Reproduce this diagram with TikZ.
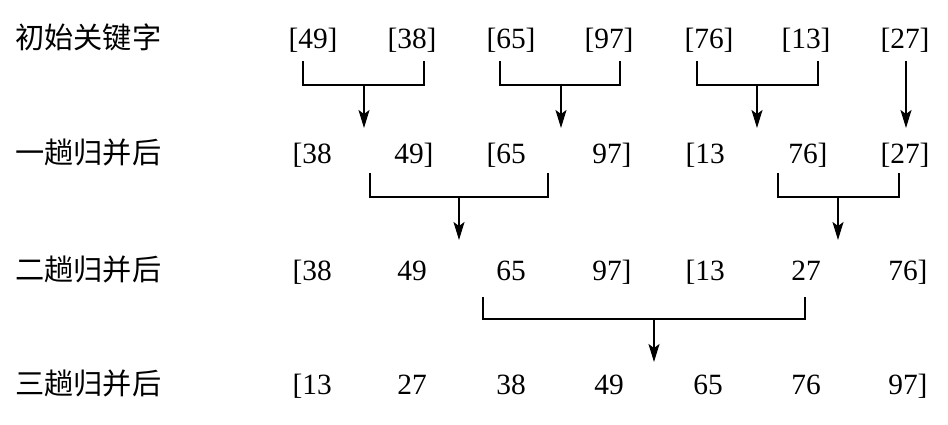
\documentclass[tikz,border=0pt]{standalone}
\usepackage{fontspec}
\setmainfont{Liberation Serif}
\newfontfamily\cjk{Noto Sans CJK SC}
\usetikzlibrary{arrows.meta}
\newcommand\mybr[7]{%
  \coordinate (#1tl) at (#2,#5); \coordinate (#1bl) at (#2,#6);
  \coordinate (#1br) at (#3,#6); \coordinate (#1tr) at (#3,#5);
  \coordinate (#1m) at (#4,#6);  \coordinate (#1t) at (#4,#7);
  \draw[brk] (#1tl) -- (#1bl) -- (#1br) -- (#1tr);
  \draw[arr] (#1m) -- (#1t);}
\begin{document}
\begin{tikzpicture}[x=0.5pt,y=-0.5pt,
  num/.style={anchor=base,inner sep=0pt,font=\fontsize{14.7}{17}\selectfont},
  lab/.style={anchor=base west,inner sep=0pt,font=\cjk\fontsize{14.6}{17}\selectfont},
  brk/.style={line width=0.8pt},
  arr/.style={line width=0.8pt,-{Stealth[length=9pt,width=5.5pt,inset=2pt]}}]
\useasboundingbox[fill=white] (0,0) rectangle (948,424);
% labels
\node[lab] (l1) at (15,48) {初始关键字};
\node[lab] (l2) at (15,163) {一趟归并后};
\node[lab] (l3) at (15,280) {二趟归并后};
\node[lab] (l4) at (15,394) {三趟归并后};
% row 1
\node[num] (r1c0) at (313,48) {\llap{[}49\rlap{]}};
\node[num] (r1c1) at (412,48) {\llap{[}38\rlap{]}};
\node[num] (r1c2) at (511,48) {\llap{[}65\rlap{]}};
\node[num] (r1c3) at (609,48) {\llap{[}97\rlap{]}};
\node[num] (r1c4) at (709,48) {\llap{[}76\rlap{]}};
\node[num] (r1c5) at (806,48) {\llap{[}13\rlap{]}};
\node[num] (r1c6) at (905,48) {\llap{[}27\rlap{]}};
% row 2
\node[num] (r2c0) at (317,163) {\llap{[}38};
\node[num] (r2c1) at (409,163) {49\rlap{]}};
\node[num] (r2c2) at (511,163) {\llap{[}65};
\node[num] (r2c3) at (607,163) {97\rlap{]}};
\node[num] (r2c4) at (710,163) {\llap{[}13};
\node[num] (r2c5) at (803,163) {76\rlap{]}};
\node[num] (r2c6) at (905,163) {\llap{[}27\rlap{]}};
% row 3
\node[num] (r3c0) at (317,280) {\llap{[}38};
\node[num] (r3c1) at (412,280) {49};
\node[num] (r3c2) at (511,280) {65};
\node[num] (r3c3) at (607,280) {97\rlap{]}};
\node[num] (r3c4) at (710,280) {\llap{[}13};
\node[num] (r3c5) at (806,280) {27};
\node[num] (r3c6) at (903,280) {76\rlap{]}};
% row 4
\node[num] (r4c0) at (317,394) {\llap{[}13};
\node[num] (r4c1) at (412,394) {27};
\node[num] (r4c2) at (511,394) {38};
\node[num] (r4c3) at (609,394) {49};
\node[num] (r4c4) at (708,394) {65};
\node[num] (r4c5) at (806,394) {76};
\node[num] (r4c6) at (903,394) {97\rlap{]}};
% merge brackets
\mybr{A}{303}{424}{364}{61}{85}{128}
\mybr{B}{500}{620}{561}{61}{85}{128}
\mybr{C}{697}{818}{757}{61}{85}{128}
\coordinate (S) at (906,61); \coordinate (St) at (906,128);
\draw[arr] (S) -- (St);
\mybr{D}{370}{548}{459}{173}{197}{240}
\mybr{E}{778}{899}{838}{173}{197}{240}
\mybr{F}{483}{805}{654}{297}{319}{362}
\end{tikzpicture}
\end{document}
